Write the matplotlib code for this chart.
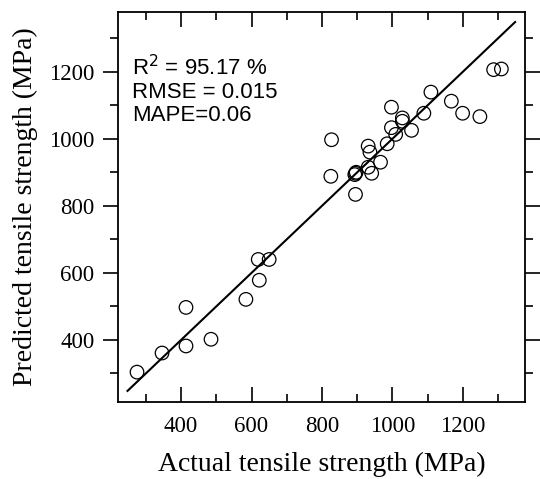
import numpy as np
import matplotlib
matplotlib.use("Agg")
import matplotlib.pyplot as plt
from matplotlib.ticker import MultipleLocator

# valores (MPa)
real = [275, 346, 414, 414, 485, 584, 622, 619, 650,
        827, 825, 895, 893, 897, 895, 931, 936, 931, 941, 966,
        985, 997, 997, 1009, 1028, 1028, 1054, 1089, 1109,
        1167, 1199, 1248, 1287, 1309]
predicho = [304, 361, 382, 497, 402, 521, 578, 640, 640,
            997, 888, 897, 893, 900, 834, 978, 960, 915, 897, 930,
            985, 1094, 1033, 1013, 1062, 1052, 1025, 1076, 1139,
            1112, 1076, 1066, 1206, 1208]
linea = [248, 1348]

texto_metricas = "R$^2$ = 95.17 %\nRMSE = 0.015\nMAPE=0.06"

plt.rcParams["font.family"] = "Liberation Serif"

fig = plt.figure(figsize=(5.4, 4.79), dpi=100)
ax = fig.add_axes([0.2185, 0.1608, 0.7537, 0.8142])

ax.plot(linea, linea, color="black", lw=1.5)
ax.scatter(real, predicho, s=95, facecolors="none", edgecolors="black", linewidths=0.9, zorder=3)

ax.set_xlim(221, 1376)
ax.set_ylim(215, 1378)

ax.xaxis.set_major_locator(MultipleLocator(200))
ax.xaxis.set_minor_locator(MultipleLocator(100))
ax.yaxis.set_major_locator(MultipleLocator(200))
ax.yaxis.set_minor_locator(MultipleLocator(100))

ax.tick_params(axis="x", which="both", direction="in", top=True, bottom=True, labelsize=16.5, pad=10)
ax.tick_params(axis="y", which="both", direction="out", left=True, right=True, labelsize=16.5, pad=6)
ax.tick_params(which="major", length=11, width=1.2)
ax.tick_params(which="minor", length=6, width=1.2)

for s in ax.spines.values():
    s.set_linewidth(1.3)

ax.set_xlabel("Actual tensile strength (MPa)", fontsize=20, labelpad=11)
ax.set_ylabel("Predicted tensile strength (MPa)", fontsize=20, labelpad=8)

ax.text(0.034, 0.89, texto_metricas, transform=ax.transAxes, fontsize=16,
        family="Liberation Sans", va="top", ha="left", linespacing=1.12)

fig.savefig("out.png", dpi=100)
